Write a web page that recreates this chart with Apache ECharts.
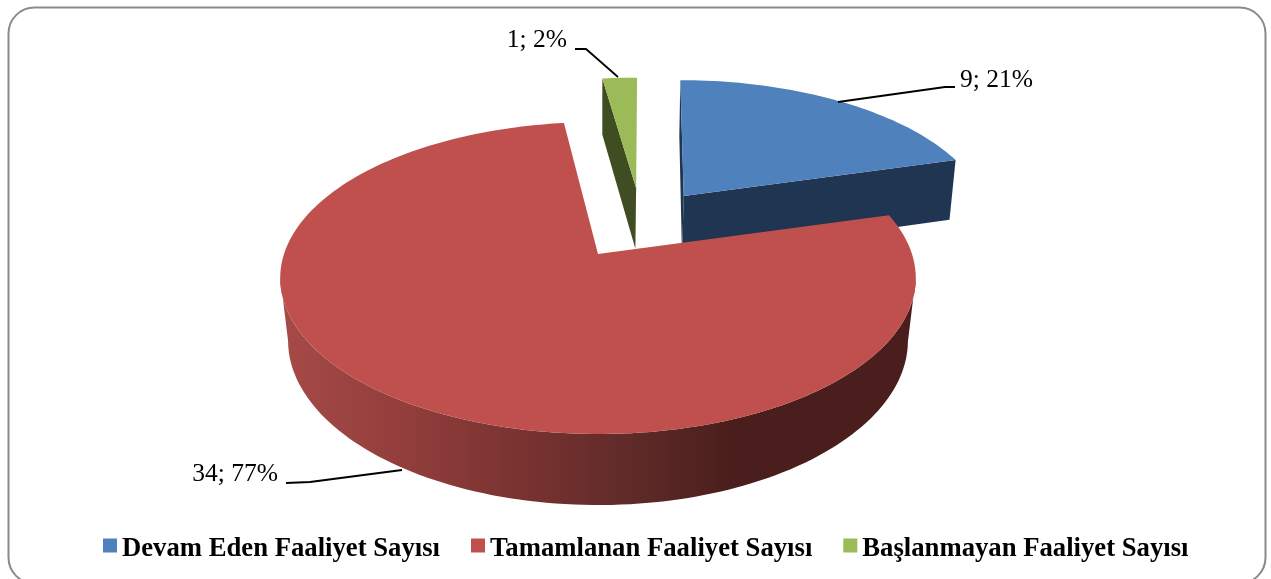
<!DOCTYPE html>
<html><head><meta charset="utf-8">
<style>html,body{margin:0;padding:0;background:#fff}#c{width:1271px;height:579px}</style>
<script src="https://cdn.jsdelivr.net/npm/echarts@6/dist/echarts.min.js"></script>
</head><body><div id="c"></div>
<script>
const categories = ['Devam Eden Faaliyet Sayısı', 'Tamamlanan Faaliyet Sayısı', 'Başlanmayan Faaliyet Sayısı'];
const values = [9, 34, 1];
const percents = [21, 77, 2];
const topColors = ['#4F81BD', '#C0504D', '#9BBB59'];
const sideColors = ['#1F3552', null, '#404C22'];

// Projection of the tilted pie (layout only)
const view = {cx: 598, cy: 254, R: 314, Q: 152.3, k: 0.154, start: 1,
  lowerX: 0.975, lowerXSlope: 0.000066, lowerYScale: 1.042, lowerYShift: 52.8};
const sliceLayout = [
  {rim: [0.318, -0.405], apex: [0.29, -0.405], rad: 0.98, rot: -1},
  {rim: [0, 0], apex: [0, 0], rad: 1, rot: 0},
  {rim: [0.135, -0.464], apex: [0.13, -0.464], rad: 0.945, rot: 0}
];
const leaders = [
  {pts: [[838,102],[945,87],[955,87]], text: [960,80], align: 'left'},
  {pts: [[402,470],[310,482],[286,483]], text: [278,474], align: 'right'},
  {pts: [[618,77],[586,49],[575,49]], text: [567,40], align: 'right'}
];
const zOrder = [3, 4, 2];

const total = values.reduce((a, b) => a + b, 0);
function project(X, Y) {
  const w = 1 - view.k * Y;
  return [view.cx + view.R * X / w, view.cy + view.Q * Y / w];
}
function lower(p) {
  const sx = view.lowerX + (280 - p[1]) * view.lowerXSlope;
  return [view.cx + (p[0] - view.cx) * sx, p[1] * view.lowerYScale + view.lowerYShift];
}
function sliceRange(i) {
  let a = view.start;
  for (let j = 0; j < i; j++) a += values[j] / total * 360;
  return [a, a + values[i] / total * 360];
}
function rim(i) {
  const [a0, a1] = sliceRange(i);
  const s_ = sliceLayout[i];
  const n = Math.ceil((a1 - a0) / 1.5), pts = [];
  for (let s = 0; s <= n; s++) {
    const t = (a0 + s_.rot + (a1 - a0) * s / n) * Math.PI / 180;
    pts.push(project(s_.rad * Math.sin(t) + s_.rim[0], -s_.rad * Math.cos(t) + s_.rim[1]));
  }
  return pts;
}
function renderSlice(i) {
  return function () {
    const arc = rim(i);
    const s_ = sliceLayout[i];
    const apex = project(s_.apex[0], s_.apex[1]);
    const children = [];
    const lowArc = arc.map(lower);
    const sideFill = sideColors[i] || {
      type: 'linear', x: 0, y: 0, x2: 1, y2: 0,
      colorStops: [
        {offset: 0, color: '#A64A47'}, {offset: 0.18, color: '#943F3D'},
        {offset: 0.37, color: '#7A3331'}, {offset: 0.56, color: '#5E2A28'},
        {offset: 0.71, color: '#4A1E1C'}, {offset: 1, color: '#4A1E1C'}]
    };
    if (i === 1) {
      // front wall between the two side extremes of the rim
      let iMax = 0, iMin = 0;
      arc.forEach((p, j) => { if (p[0] > arc[iMax][0]) iMax = j; if (p[0] < arc[iMin][0]) iMin = j; });
      const front = arc.slice(iMax, iMin + 1);
      const back = lowArc.slice(iMax, iMin + 1).reverse();
      children.push({type: 'polygon', shape: {points: front.concat(back)}, style: {fill: sideFill}});
    } else {
      const la = lower(apex), e = arc.length - 1;
      children.push({type: 'polygon', shape: {points: [arc[0], apex, la, lowArc[0]]}, style: {fill: sideFill}});
      children.push({type: 'polygon', shape: {points: [arc[e], apex, la, lowArc[e]]}, style: {fill: sideFill}});
    }
    // top face
    children.push({type: 'polygon', shape: {points: [apex].concat(arc)}, style: {fill: topColors[i]}});
    // leader + label
    const L = leaders[i];
    children.push({type: 'polyline', shape: {points: L.pts}, style: {stroke: '#000', lineWidth: 1.8, fill: null}});
    children.push({type: 'text', style: {
      text: values[i] + '; ' + percents[i] + '%', x: L.text[0], y: L.text[1],
      align: L.align, verticalAlign: 'middle',
      font: '25.5px "Liberation Serif"', fill: '#000'}});
    return {type: 'group', children};
  };
}

const legendFont = {fontFamily: 'Liberation Serif', fontWeight: 'bold', fontSize: 26.7, lineHeight: 30, color: '#000'};
const chart = echarts.init(document.getElementById('c'), null, {renderer: 'canvas'});
chart.setOption({
  animation: false,
  backgroundColor: '#fff',
  color: topColors,
  graphic: [{type: 'rect', z: -1, shape: {x: 8.5, y: 7.5, width: 1257, height: 576, r: 26},
    style: {fill: '#fff', stroke: '#8A8A8A', lineWidth: 2}}],
  legend: {
    show: true, data: categories, left: 103, top: 528, orient: 'horizontal',
    icon: 'rect', itemWidth: 14, itemHeight: 14, itemGap: 31, padding: 0,
    formatter: '{t|{name}}',
    textStyle: Object.assign({rich: {t: Object.assign({padding: [8, 0, 0, 0]}, legendFont)}}, legendFont)
  },
  series: categories.map((name, i) => ({
    type: 'custom', name, coordinateSystem: 'none', z: zOrder[i],
    itemStyle: {color: topColors[i]},
    data: [[values[i]]], renderItem: renderSlice(i), silent: true
  }))
});
</script></body></html>
